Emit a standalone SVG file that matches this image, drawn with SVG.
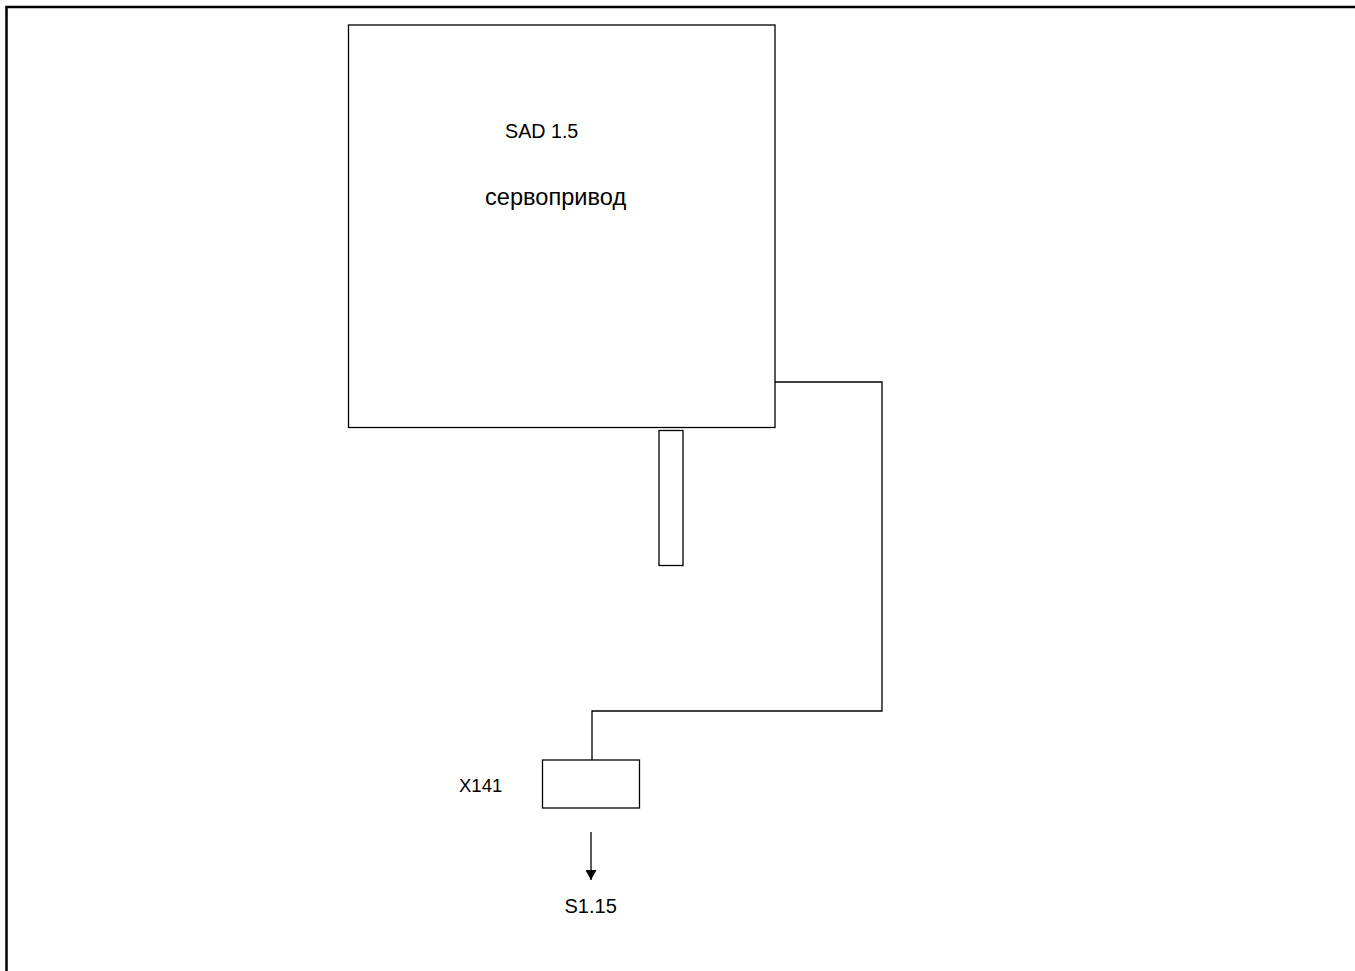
<svg xmlns="http://www.w3.org/2000/svg" width="1355" height="971" viewBox="0 0 1355 971">
<style>
.frame{fill:none;stroke:#000;stroke-width:2.5}
.box{fill:#fff;stroke:#000;stroke-width:1.3}
.wire{fill:none;stroke:#000;stroke-width:1.3}
.t{font-family:"Liberation Sans",Arial,sans-serif;fill:#000}
</style>
<defs>
<marker id="arr" viewBox="0 0 10 11" refX="10" refY="5.5" markerWidth="10" markerHeight="11" markerUnits="userSpaceOnUse" orient="auto">
<path d="M0,0 L10,5.5 L0,11 Z" fill="#000"/>
</marker>
</defs>
<rect width="1355" height="971" fill="#fff"/>
<rect class="frame" x="6.5" y="7" width="1360" height="980"/>
<g id="connectors">
<polyline class="wire" points="775,382 882,382 882,711 592,711 592,760"/>
<line class="wire" x1="591" y1="832" x2="591" y2="880" marker-end="url(#arr)"/>
</g>
<g id="node-sad">
<rect class="box" x="348.5" y="25" width="426.5" height="402.5"/>
<text class="t" x="505" y="137.5" font-size="19.7">SAD 1.5</text>
<text class="t" x="485" y="204.5" font-size="23.6">сервопривод</text>
</g>
<g id="node-shaft">
<rect class="box" x="659" y="430.5" width="24" height="135"/>
</g>
<g id="node-x141">
<rect class="box" x="542.5" y="760" width="97" height="48"/>
<text class="t" x="459" y="791.5" font-size="18.5">X141</text>
</g>
<g id="label-s115">
<text class="t" x="564.5" y="912.5" font-size="20">S1.15</text>
</g>
</svg>
